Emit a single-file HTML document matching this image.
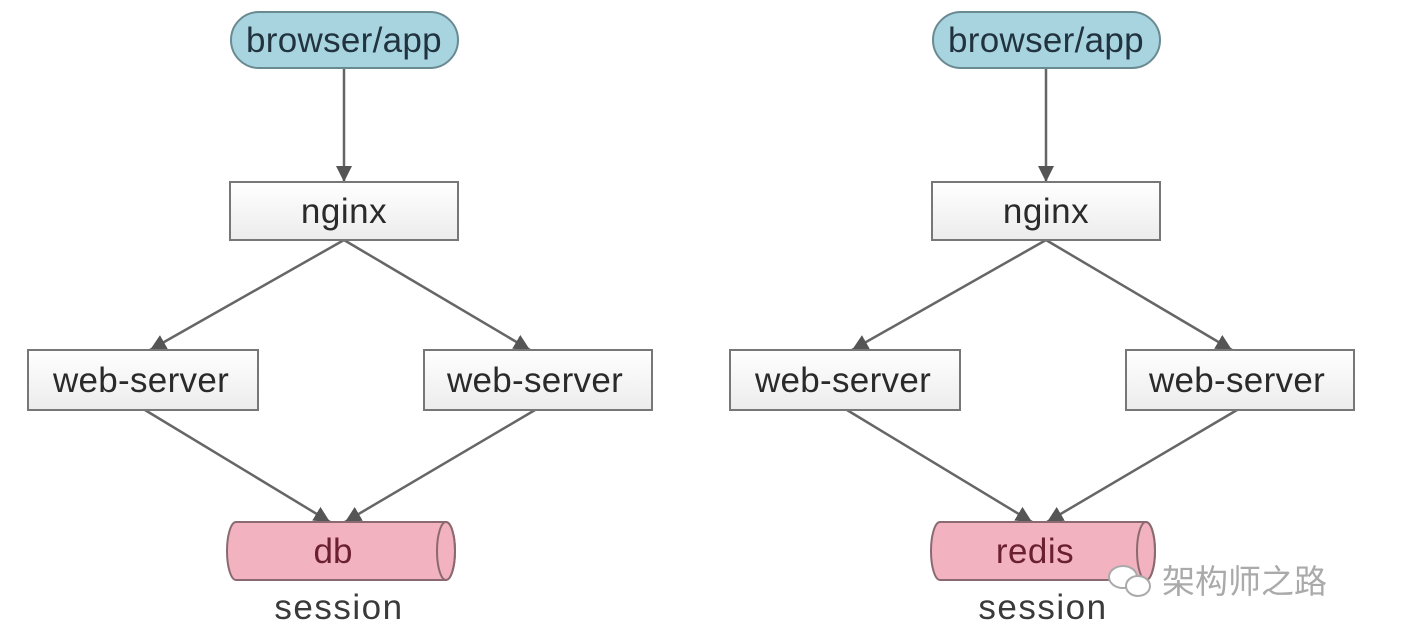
<!DOCTYPE html>
<html><head><style>
html,body{margin:0;padding:0;background:#fff;}
</style></head><body>
<svg width="1412" height="628" viewBox="0 0 1412 628" xmlns="http://www.w3.org/2000/svg" font-family="Liberation Sans, sans-serif">
<defs>
<marker id="b" viewBox="0 0 10 10" refX="10" refY="5" markerWidth="16" markerHeight="16" orient="auto" markerUnits="userSpaceOnUse"><path d="M0,0 L10,5 L0,10 z" fill="#555"/></marker>
<linearGradient id="g" x1="0" y1="0" x2="0" y2="1"><stop offset="0" stop-color="#fff"/><stop offset="1" stop-color="#ececec"/></linearGradient>
</defs>
<g id="L">
<g stroke="#666" stroke-width="2.5" fill="none" marker-end="url(#b)">
<line x1="344" y1="68" x2="344" y2="182"/>
<line x1="344" y1="240" x2="150" y2="350"/>
<line x1="344" y1="240" x2="530" y2="350"/>
<line x1="145" y1="410" x2="330" y2="522"/>
<line x1="535" y1="410" x2="345" y2="522"/>
</g>
<rect x="231" y="12" width="227" height="56" rx="28" fill="#a8d4e0" stroke="#6a8a92" stroke-width="2"/>
<text x="344" y="52" font-size="35" letter-spacing="0.3" text-anchor="middle" fill="#223340">browser/app</text>
<rect x="230" y="182" width="228" height="58" fill="url(#g)" stroke="#777" stroke-width="2"/>
<text x="344" y="223" font-size="35" letter-spacing="0.5" text-anchor="middle" fill="#2a2a2a">nginx</text>
<rect x="28" y="350" width="230" height="60" fill="url(#g)" stroke="#777" stroke-width="2"/>
<text x="141" y="392" font-size="35" letter-spacing="0.3" text-anchor="middle" fill="#2a2a2a">web-server</text>
<rect x="424" y="350" width="228" height="60" fill="url(#g)" stroke="#777" stroke-width="2"/>
<text x="535" y="392" font-size="35" letter-spacing="0.3" text-anchor="middle" fill="#2a2a2a">web-server</text>
</g>
<path d="M236,522 L446,522 A9,29 0 0 1 446,580 L236,580 A9,29 0 0 1 236,522 z" fill="#f2b2bf" stroke="#8a6a70" stroke-width="2"/>
<ellipse cx="446" cy="551" rx="9" ry="29" fill="none" stroke="#8a6a70" stroke-width="2"/>
<text x="333" y="563" font-size="35" text-anchor="middle" fill="#6a2030">db</text>
<text x="339" y="619" font-size="35" letter-spacing="1.5" text-anchor="middle" fill="#3a3a3a">session</text>
<use href="#L" x="702"/>
<path d="M940,522 L1146,522 A9,29 0 0 1 1146,580 L940,580 A9,29 0 0 1 940,522 z" fill="#f2b2bf" stroke="#8a6a70" stroke-width="2"/>
<ellipse cx="1146" cy="551" rx="9" ry="29" fill="none" stroke="#8a6a70" stroke-width="2"/>
<text x="1035" y="563" font-size="35" letter-spacing="0.5" text-anchor="middle" fill="#6a2030">redis</text>
<text x="1043" y="619" font-size="35" letter-spacing="1.5" text-anchor="middle" fill="#3a3a3a">session</text>
<g fill="#fff" stroke="#aaa" stroke-width="2">
<ellipse cx="1123" cy="577" rx="14" ry="11"/>
<ellipse cx="1138" cy="586" rx="12" ry="10"/>
</g>
<text x="1162" y="593" font-size="33" fill="#aaa" font-family="Liberation Sans, Noto Sans CJK SC, sans-serif">架构师之路</text>
</svg>
</body></html>
